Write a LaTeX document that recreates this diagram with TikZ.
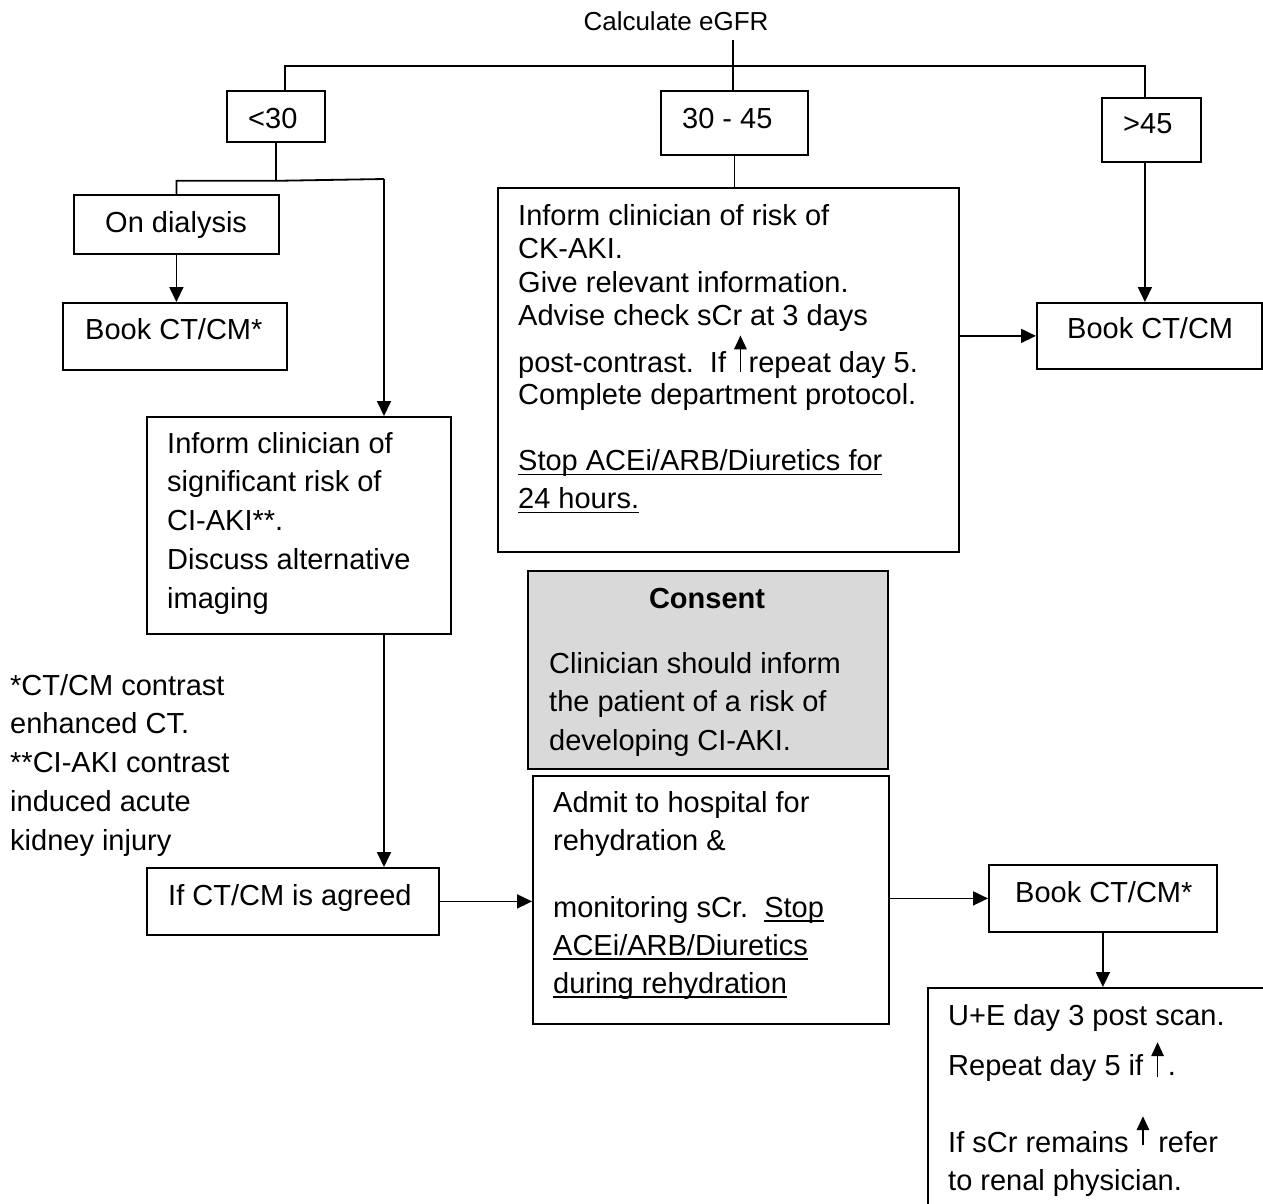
\documentclass[tikz,border=0pt]{standalone}
\usepackage{fontspec}
\setmainfont{Liberation Sans}
\usetikzlibrary{arrows.meta}
\newcommand\mystrutA{\rule{0pt}{22pt}}
\newcommand\myul[1]{\setbox0\hbox{#1}\rlap{\rule[-4.5pt]{\wd0}{1.8pt}}\box0}
\newcommand\upar[2]{\smash{\tikz[baseline=0pt]\draw[line width=1.8pt,-{Triangle[width=12.5pt,length=14pt]}] (0pt,#1) -- (0pt,#2);}}
\begin{document}
\begin{tikzpicture}[x=1pt,y=-1pt,
  box/.style={draw,line width=1.8pt,inner sep=0pt,anchor=north west},
  txt/.style={inner sep=0pt,anchor=north west,align=left},
  one/.style={inner sep=0pt,anchor=base west},
  conn/.style={line width=1.8pt},
  arr/.style={line width=1.8pt,-{Triangle[width=14pt,length=15pt]}},
  fa/.style={font=\fontsize{29pt}{38.75pt}\selectfont}
]
\useasboundingbox (0,0) rectangle (1263,1203);
\clip (0,0) rectangle (1263,1203);

% boxes
\node[box,minimum width=98pt,minimum height=51pt] (b30) at (226,90) {};
\node[box,minimum width=147pt,minimum height=64pt] (b3045) at (660,90) {};
\node[box,minimum width=99pt,minimum height=64pt] (b45) at (1101,97) {};
\node[box,minimum width=205pt,minimum height=59pt] (dial) at (73,194) {};
\node[box,minimum width=224pt,minimum height=67pt] (book1) at (62,302) {};
\node[box,minimum width=461pt,minimum height=364pt] (info) at (497,187) {};
\node[box,minimum width=225pt,minimum height=66pt] (book2) at (1036,302) {};
\node[box,minimum width=304pt,minimum height=217pt] (inform) at (146,416) {};
\node[box,minimum width=292pt,minimum height=67pt] (agreed) at (146,867) {};
\node[box,fill=gray!30,minimum width=360pt,minimum height=198pt] (consent) at (527,570) {};
\node[box,minimum width=356pt,minimum height=248pt] (admit) at (532,775) {};
\node[box,minimum width=228pt,minimum height=67pt] (book3) at (988,864) {};
\node[box,minimum width=400pt,minimum height=300pt] (ue) at (927,987) {};

% single-line texts
\node[inner sep=0pt,anchor=base,font=\fontsize{26pt}{30pt}\selectfont] (calc) at (676,30) {Calculate eGFR};
\node[one,fa] (t30) at (248,128) {<30};
\node[one,fa] (t3045) at (682,128) {30 - 45};
\node[one,fa] (t45) at (1123,133) {>45};
\node[one,fa] (tdial) at (105,232) {On dialysis};
\node[one,fa] (tbook1) at (85,339) {Book CT/CM*};
\node[one,fa] (tbook2) at (1067,338) {Book CT/CM};
\node[one,fa] (tagreed) at (168,905) {If CT/CM is agreed};
\node[one,fa] (tbook3) at (1015,902) {Book CT/CM*};
\node[inner sep=0pt,anchor=base,font=\fontsize{29pt}{38pt}\selectfont\bfseries] (tconsent) at (707,608) {Consent};

% multi-line texts
\node[txt,font=\fontsize{29pt}{33.4pt}\selectfont] (tinfo) at (518,203) {\mystrutA Inform clinician of risk of\\
CK-AKI.\\
Give relevant information.\\
Advise check sCr at 3 days\\[13.6pt]
post-contrast.\ \ If \upar{0pt}{37pt}\kern2pt repeat day 5.\\[-1.4pt]
Complete department protocol.\\[33pt]
\myul{Stop ACEi/ARB/Diuretics for}\\[4.6pt]
\myul{24 hours.}};
\node[txt,fa] (tinform) at (167,431) {\mystrutA Inform clinician of\\significant risk of\\CI-AKI**.\\Discuss alternative\\imaging};
\node[txt,fa] (tfoot) at (10,673) {\mystrutA *CT/CM contrast\\enhanced CT.\\**CI-AKI contrast\\induced acute\\kidney injury};
\node[txt,font=\fontsize{29pt}{38.5pt}\selectfont] (tconsbody) at (549,651) {\mystrutA Clinician should inform\\the patient of a risk of\\developing CI-AKI.};
\node[txt,font=\fontsize{29pt}{38pt}\selectfont] (tadmit) at (553,790) {\mystrutA Admit to hospital for\\rehydration \&\\[29pt]monitoring sCr.\ \ \myul{Stop}\\\myul{ACEi/ARB/Diuretics}\\\myul{during rehydration}};
\node[txt,font=\fontsize{29pt}{38.5pt}\selectfont] (tue) at (948,1003) {\mystrutA U+E day 3 post scan.\\[11.5pt]Repeat day 5 if \upar{-2pt}{33pt}\kern4pt.\\[38.5pt]If sCr remains \upar{7pt}{36pt}\kern1pt\ refer\\to renal physician.};

% connectors
\coordinate (calcfoot) at (733,40);
\draw[conn] (calcfoot) -- (calcfoot |- b3045.north);
\draw[conn] ([xshift=9pt]b30.north) -- ++(0,-24) -| ([xshift=-6.5pt]b45.north);
\draw[conn] (b30.south) -- ++(0,38) coordinate (split30);
\coordinate (r30) at (384,179);
\draw[conn] (dial.north) |- (split30) -- (r30);
\draw[arr] (r30) -- (r30 |- inform.north);
\draw[arr] (dial.south) -- (dial.south |- book1.north);
\draw[arr] (r30 |- inform.south) -- (r30 |- agreed.north);
\draw[conn] (b3045.south) -- (b3045.south |- info.north);
\draw[arr] ([xshift=-6.5pt]b45.south) -- ([xshift=-6.5pt]b45.south |- book2.north);
\draw[arr] (info.east |- book2.west) -- (book2.west);
\draw[arr] (agreed.east) -- (agreed.east -| admit.west);
\draw[arr] (admit.east |- book3.west) -- (book3.west);
\draw[arr] (book3.south) -- (book3.south |- ue.north);
\end{tikzpicture}
\end{document}
